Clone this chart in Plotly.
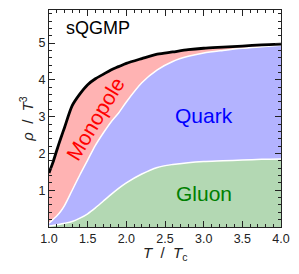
import plotly.graph_objects as go

T = [1.0, 1.05, 1.1, 1.15, 1.2, 1.3, 1.4, 1.5, 1.6, 1.7, 1.8, 1.9, 2.0,
     2.2, 2.4, 2.6, 2.8, 3.0, 3.25, 3.5, 3.75, 4.0]
gluon = [0.03, 0.04, 0.06, 0.08, 0.10, 0.15, 0.24, 0.36, 0.52, 0.70, 0.88, 1.05, 1.20,
         1.44, 1.62, 1.70, 1.75, 1.78, 1.80, 1.82, 1.84, 1.85]
quark = [0.07, 0.16, 0.24, 0.34, 0.48, 0.85, 1.18, 1.46, 1.70, 1.85, 1.97, 2.05, 2.20,
         2.48, 2.65, 2.80, 2.89, 2.95, 3.00, 3.04, 3.06, 3.09]
monopole = [1.37, 1.55, 1.78, 1.98, 2.12, 2.30, 2.20, 2.05, 1.81, 1.60, 1.42, 1.26, 1.05,
            0.66, 0.43, 0.26, 0.18, 0.13, 0.09, 0.06, 0.05, 0.03]

fig = go.Figure()
fig.add_trace(go.Scatter(x=T, y=gluon, stackgroup="s", mode="lines",
                         line=dict(color="white", width=1.5, shape="spline", smoothing=0.8),
                         fillcolor="rgb(179,216,179)"))
fig.add_trace(go.Scatter(x=T, y=quark, stackgroup="s", mode="lines",
                         line=dict(color="white", width=1.5, shape="spline", smoothing=0.8),
                         fillcolor="rgb(179,179,255)"))
fig.add_trace(go.Scatter(x=T, y=monopole, stackgroup="s", mode="lines",
                         line=dict(color="black", width=2.8, shape="spline", smoothing=0.8),
                         fillcolor="rgb(255,179,179)"))

font = "Liberation Sans, Arial, sans-serif"
fig.add_annotation(x=1.634, y=5.41, text="sQGMP", showarrow=False,
                   font=dict(family=font, size=18, color="black"))
fig.add_annotation(x=3.0, y=3.02, text="Quark", showarrow=False,
                   font=dict(family=font, size=21, color="blue"))
fig.add_annotation(x=3.01, y=0.9, text="Gluon", showarrow=False,
                   font=dict(family=font, size=21, color="green"))
fig.add_annotation(x=1.6, y=2.95, text="Monopole", showarrow=False, textangle=-59,
                   font=dict(family=font, size=21, color="red"))
fig.add_annotation(xref="paper", yref="paper", x=0.502, y=-0.122,
                   xanchor="center", yanchor="middle",
                   text="<i>T</i>  /  <i>T</i><sub>c</sub>", showarrow=False,
                   font=dict(family=font, size=15, color="#222"))
fig.add_annotation(xref="paper", yref="paper", x=-0.098, y=0.5, textangle=-90,
                   xanchor="center", yanchor="middle",
                   text="<i>ρ</i>  /  <i>T</i><sup>3</sup>", showarrow=False,
                   font=dict(family=font, size=15, color="#222"))

axcommon = dict(showgrid=False, zeroline=False, showline=True, linecolor="#222",
                linewidth=1, mirror="allticks", ticks="inside", tickcolor="#222",
                ticklen=6, tickfont=dict(family=font, size=12.5, color="#222"))
fig.update_xaxes(range=[1.0, 4.0], dtick=0.5, tick0=1.0, tickformat=".1f",
                 minor=dict(dtick=0.1, ticks="inside", ticklen=3, tickcolor="#222"),
                 **axcommon)
fig.update_yaxes(range=[0, 5.9], tickvals=[1, 2, 3, 4, 5],
                 minor=dict(dtick=0.2, ticks="inside", ticklen=3, tickcolor="#222"),
                 **axcommon)
fig.update_layout(width=299, height=274, margin=dict(l=49, r=11, t=9, b=47),
                  showlegend=False, plot_bgcolor="white", paper_bgcolor="white")
fig.write_html("out.html", config={"displayModeBar": False},
               post_script="document.body.style.margin='0';document.body.style.overflow='hidden';")
